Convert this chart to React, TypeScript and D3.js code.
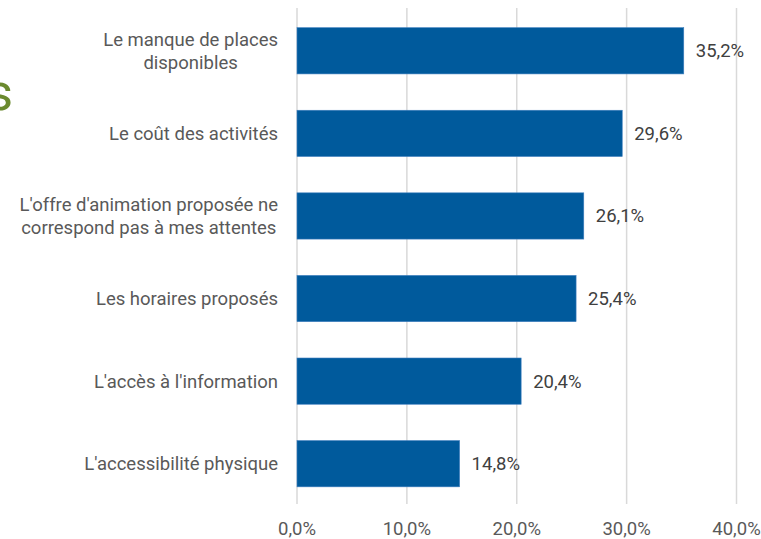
import React, { useLayoutEffect, useRef } from 'react';
import * as d3 from 'd3';

const categories: string[][] = [
  ['Le manque de places', 'disponibles'],
  ['Le coût des activités'],
  ["L'offre d'animation proposée ne", 'correspond pas à mes attentes'],
  ['Les horaires proposés'],
  ["L'accès à l'information"],
  ["L'accessibilité physique"],
];
const values = [35.2, 29.6, 26.1, 25.4, 20.4, 14.8];
const ticks = [0, 10, 20, 30, 40];

const W = 761;
const H = 539;
const LABEL_RIGHT = 278;

const fmt = (v: number) => v.toFixed(1).replace('.', ',') + '%';

const App: React.FC = () => {
  const ref = useRef<SVGSVGElement>(null);
  const x = d3.scaleLinear().domain([0, 40]).range([297, 736.5]);
  const y = d3
    .scaleBand<number>()
    .domain(d3.range(values.length))
    .range([9.5, 505])
    .paddingInner(0.44)
    .paddingOuter(0.22);
  const font = 'Roboto, "Noto Sans", sans-serif';

  // multi-line labels are centred as a block, block right edge on LABEL_RIGHT
  useLayoutEffect(() => {
    const svg = d3.select(ref.current);
    svg.selectAll<SVGTextElement, unknown>('text.cat').each(function () {
      const spans = d3.select(this).selectAll<SVGTSpanElement, unknown>('tspan');
      if (spans.size() < 2) return;
      let maxW = 0;
      spans.each(function () {
        maxW = Math.max(maxW, this.getComputedTextLength());
      });
      spans.attr('text-anchor', 'middle').attr('x', LABEL_RIGHT - maxW / 2);
    });
  }, []);

  return (
    <svg
      ref={ref}
      width={W}
      height={H}
      style={{ position: 'absolute', left: 0, top: 0, background: '#fff' }}
      fontFamily={font}
    >
      {/* cut-off title from the page behind */}
      <text x={13} y={110} textAnchor="end" fontSize={52} fill="#6b8a2f">
        s
      </text>

      {ticks.map((t) => (
        <line
          key={t}
          x1={x(t)}
          x2={x(t)}
          y1={8}
          y2={504}
          stroke="#d9d9d9"
          strokeWidth={1.5}
        />
      ))}

      {values.map((v, i) => (
        <g key={i}>
          <rect
            x={x(0)}
            y={y(i)}
            width={x(v) - x(0)}
            height={y.bandwidth()}
            fill="#005a9c"
            stroke="#3f7fbf"
            strokeWidth={0.6}
          />
          <text
            x={x(v) + 12}
            y={(y(i) as number) + y.bandwidth() / 2}
            dy="0.35em"
            fontSize={18.5}
            fill="#404040"
          >
            {fmt(v)}
          </text>
        </g>
      ))}

      {categories.map((lines, i) => {
        const cy = (y(i) as number) + y.bandwidth() / 2;
        const lh = 23;
        const start = cy - ((lines.length - 1) * lh) / 2;
        return (
          <text
            key={i}
            className="cat"
            x={LABEL_RIGHT}
            textAnchor="end"
            fontSize={18.5}
            fill="#595959"
          >
            {lines.map((l, j) => (
              <tspan key={j} x={LABEL_RIGHT} textAnchor="end" y={start + j * lh} dy="0.35em">
                {l}
              </tspan>
            ))}
          </text>
        );
      })}

      {ticks.map((t) => (
        <text
          key={t}
          x={x(t)}
          y={535}
          textAnchor="middle"
          fontSize={18.5}
          fill="#595959"
        >
          {fmt(t)}
        </text>
      ))}
    </svg>
  );
};

export default App;
